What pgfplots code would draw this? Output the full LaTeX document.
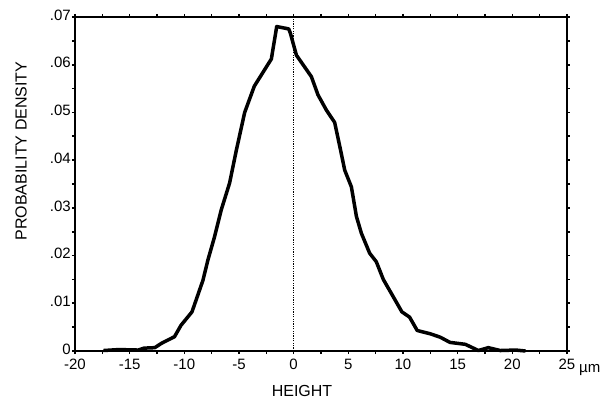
\documentclass[border=0pt]{standalone}
\usepackage{fontspec}
\setmainfont{Liberation Sans}
\usepackage{pgfplots}
\pgfplotsset{compat=1.18}
\begin{document}
\begin{tikzpicture}
\begin{axis}[
  at={(0,0)}, anchor=south west,
  scale only axis,
  width=492pt, height=334pt,
  xmin=-20, xmax=25, ymin=0, ymax=0.07,
  axis line style={line width=2.4pt},
  xtick={-20,-15,...,25},
  xticklabels={-20,-15,-10,-5,0,5,10,15,20,25},
  ytick={0,0.01,0.02,0.03,0.04,0.05,0.06,0.07},
  yticklabels={0,.01,.02,.03,.04,.05,.06,.07},
  scaled y ticks=false, scaled x ticks=false,
  minor x tick num=1,
  minor y tick num=1,
  tick align=outside,
  major tick length=3pt, minor tick length=3pt,
  tick style={line width=1.6pt, black},
  tick label style={font=\fontsize{15}{17}\selectfont},
  xticklabel style={inner sep=1pt, yshift=-4pt},
  yticklabel style={inner sep=1pt, yshift=2pt},
  /pgf/number format/assume math mode=true,
  clip=false,
]
\addplot[black, line width=1.6pt, dash pattern=on 1.2pt off 1.2pt] coordinates {(0,0) (0,0.07)};
\addplot[black, line width=3.5pt, line join=round] coordinates {
(-17.4,0.0001) (-16.0,0.0003) (-14.2,0.0002) (-13.7,0.0006) (-12.7,0.0007)
(-12.1,0.0016) (-10.9,0.0030) (-10.3,0.0054) (-9.3,0.0082) (-8.3,0.0148)
(-7.84,0.0191) (-7.23,0.0240) (-6.62,0.0296) (-5.86,0.0352) (-5.25,0.0420)
(-4.48,0.0500) (-3.6,0.0555) (-2.04,0.0612) (-1.55,0.0680) (-0.45,0.0675)
(-0.3,0.0666) (0.25,0.0620) (1.62,0.0575) (2.22,0.0537) (2.99,0.0505)
(3.75,0.0479) (4.3,0.0420) (4.67,0.0379) (5.28,0.0344) (5.74,0.0282)
(6.19,0.0247) (6.95,0.0205) (7.56,0.0187) (8.2,0.0150) (9.9,0.0082)
(10.6,0.0071) (11.3,0.0043) (12.5,0.0036) (13.4,0.0029) (14.3,0.0018)
(15.7,0.0014) (16.9,0.0001) (17.8,0.0007) (18.9,0.0001) (20.3,0.0002)
(21.2,0.0000)
};
\end{axis}
\node[rotate=90, anchor=south, inner sep=0pt, font=\fontsize{16}{18}\selectfont] at (-48pt,200pt) {PROBABILITY DENSITY};
\node[anchor=north, inner sep=0pt, font=\fontsize{16}{18}\selectfont] at (227pt,-34pt) {HEIGHT};
\node[anchor=base west, inner sep=0pt, font=\fontsize{15}{17}\selectfont] at (504pt,-21pt) {µm};
\path (-75pt,-51pt) (536pt,351pt);
\end{tikzpicture}
\end{document}
